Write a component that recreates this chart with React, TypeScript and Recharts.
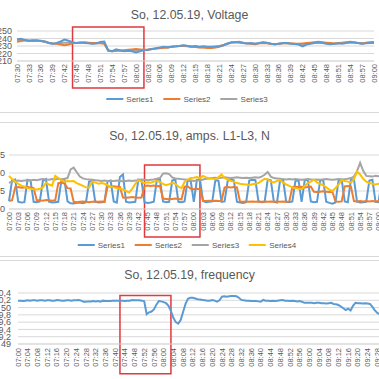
import { LineChart, Line, XAxis, YAxis, CartesianGrid, Legend, ReferenceArea } from "recharts";

const FONT = '"Liberation Sans", Arial, sans-serif';
const TEXT = "#595959";
const GRID = "#d9d9d9";
const BOX = "#e0393e";

const SERIES_NAMES = ["Series1", "Series2", "Series3", "Series4"];
const SERIES_COLORS = ["#5b9bd5", "#ed7d31", "#a5a5a5", "#ffc000"];

// minute labels "HH:MM"
function minuteLabels(h: number, m: number, count: number) {
  const out: string[] = [];
  for (let i = 0; i < count; i++) {
    const t = h * 60 + m + i;
    out.push(`${String(Math.floor(t / 60)).padStart(2, "0")}:${String(t % 60).padStart(2, "0")}`);
  }
  return out;
}

// ---- Voltage, 07:30 - 09:00
const VOLT_TIMES = minuteLabels(7, 30, 91);
const VOLT_TICKS = [210, 220, 230, 240, 250];
const VOLT_S1 = [
  239, 239.5, 238, 237, 237, 237.5, 237, 236, 234, 233,
  234, 236, 238.5, 237, 235, 234, 234.5, 234, 233.5, 233,
  233.5, 235.5, 236, 224, 223, 225.5, 224, 223, 223.5, 223,
  221.5, 223, 224.5, 225, 226, 227, 228, 229, 228.5, 229,
  229.5, 230, 231, 230, 229.5, 230, 229, 229.5, 229, 229,
  229.5, 230, 231, 233, 235, 235, 234.5, 234, 233.5, 234,
  233, 234, 235, 234.5, 233, 232.5, 233, 234, 234, 233,
  232.5, 232, 229.5, 232, 233, 234, 234.5, 234, 233, 232.5,
  233, 233.5, 233, 234, 235, 234.5, 234, 233, 233.5, 234,
  234,
];
const VOLT_S2 = [
  235.5, 236.5, 237.5, 237, 237.5, 237, 236.5, 236, 234.5, 233.5,
  233, 232, 231, 232, 233.5, 234, 234.5, 235, 234.5, 234,
  234, 233.5, 233, 224, 223, 223.5, 224, 224.5, 225, 225.5,
  226, 225.5, 225, 225, 226, 226.5, 227, 227.5, 228, 229,
  229.5, 230, 230, 229.5, 229, 228.5, 228, 228, 227.5, 227.5,
  228, 229, 231, 233, 234.5, 235, 235.5, 234.5, 233.5, 233,
  232.5, 233.5, 234, 233.5, 233, 232.5, 233, 233.5, 234, 233.5,
  233, 233, 233.5, 234, 234.5, 235, 235.5, 235, 234.5, 234,
  233.5, 234, 234.5, 235, 235.5, 235, 234, 233.5, 234.5, 235,
  235.5,
];
const VOLT_S3 = [
  237, 238, 237.5, 237, 237, 237, 236.5, 235.5, 234, 233,
  233.5, 234, 234.5, 234.5, 234, 234, 234.5, 234.5, 234, 233.5,
  233.5, 234, 234, 224, 223, 224, 224, 223.5, 224, 224,
  224, 224, 224.5, 225, 226, 226.5, 227.5, 228, 228, 229,
  229.5, 230, 230.5, 230, 229, 229, 228.5, 228.5, 228, 228,
  228.5, 229.5, 231, 233, 234.5, 235, 235, 234, 233.5, 233.5,
  233, 233.5, 234.5, 234, 233, 232.5, 233, 233.5, 234, 233.5,
  233, 232.5, 232, 233, 234, 234.5, 235, 234.5, 233.5, 233,
  233, 233.5, 234, 234.5, 235, 234.5, 234, 233.5, 234, 234.5,
  234.5,
];

// ---- Amps L1-L3, N, 07:00 - 09:05
const AMP_TIMES = minuteLabels(7, 0, 126);
const AMP_TICKS = [0, 5, 10, 15];
const AMP_S1 = [
  2.2, 8.0, 8.2, 2.0, 1.8, 1.9, 8.1, 7.9, 2.0, 1.9,
  2.1, 7.8, 8.3, 2.0, 1.8, 1.9, 2.0, 7.9, 8.0, 2.1,
  1.6, 1.5, 1.7, 1.8, 1.6, 1.9, 7.6, 7.8, 2.0, 1.8,
  1.9, 2.0, 7.7, 7.9, 2.1, 1.8, 8.9, 9.6, 2.0, 1.8,
  1.9, 2.0, 8.2, 8.0, 1.9, 1.7, 1.8, 2.0, 8.1, 8.3,
  2.1, 1.9, 2.0, 7.9, 8.2, 2.0, 1.9, 2.1, 8.0, 7.8,
  2.0, 8.1, 8.3, 2.2, 1.9, 2.0, 2.1, 8.0, 7.9, 2.0,
  2.1, 7.8, 8.2, 8.0, 2.0, 1.8, 1.7, 1.9, 7.9, 8.1,
  8.0, 2.1, 1.9, 2.0, 8.2, 8.0, 2.0, 1.8, 7.9, 8.1,
  2.0, 1.9, 2.1, 7.8, 8.0, 2.0, 7.9, 8.2, 2.1, 1.9,
  2.0, 7.8, 8.1, 2.0, 1.7, 1.5, 1.8, 8.0, 8.2, 2.1,
  1.9, 8.1, 8.3, 2.0, 1.8, 1.9, 2.0, 7.9, 8.1, 2.0,
  1.9, 8.0, 8.2, 2.1, 1.9, 2.0,
];
const AMP_S2 = [
  2.3, 2.4, 6.0, 6.1, 5.9, 6.0, 6.1, 6.0, 5.8, 2.5,
  2.4, 2.3, 2.5, 2.4, 2.3, 2.4, 7.2, 7.3, 7.1, 5.8,
  5.7, 2.0, 1.9, 2.0, 2.1, 2.0, 1.9, 2.0, 2.1, 2.0,
  2.1, 2.0, 6.3, 6.2, 6.3, 6.2, 6.1, 3.2, 3.1, 3.2,
  3.3, 3.2, 3.1, 3.2, 6.3, 6.5, 6.4, 6.5, 6.3, 6.4,
  2.9, 2.8, 2.7, 2.8, 2.9, 2.8, 2.7, 6.2, 6.3, 5.6,
  5.5, 5.6, 5.5, 2.3, 2.2, 2.3, 2.2, 2.3, 2.2, 2.3,
  6.0, 6.1, 6.0, 6.1, 6.0, 2.1, 2.0, 2.1, 2.0, 2.1,
  2.0, 2.1, 2.0, 2.1, 2.0, 2.1, 2.0, 2.1, 2.0, 2.1,
  2.0, 2.1, 6.1, 6.2, 6.1, 6.2, 6.0, 6.1, 6.2, 4.8,
  4.7, 4.8, 4.9, 4.8, 4.7, 4.8, 2.1, 2.0, 2.1, 6.3,
  6.4, 6.3, 2.2, 2.1, 2.2, 2.1, 2.2, 2.1, 2.2, 2.1,
  2.2, 2.1, 6.2, 6.3, 6.2, 6.1,
];
const AMP_S3 = [
  7.3, 7.6, 7.8, 7.9, 7.8, 7.9, 8.0, 7.9, 8.1, 8.0,
  8.2, 8.3, 8.2, 8.1, 8.3, 8.2, 8.4, 8.3, 8.4, 8.6,
  11.0, 11.5, 10.2, 9.0, 8.5, 8.3, 8.2, 8.1, 8.0, 7.9,
  7.8, 7.9, 7.8, 7.7, 7.8, 7.9, 7.8, 7.7, 7.8, 7.9,
  7.8, 7.9, 8.0, 8.2, 8.1, 8.0, 8.1, 8.2, 8.4, 8.6,
  9.8, 9.9, 9.7, 8.8, 8.5, 8.4, 8.3, 8.2, 8.1, 8.0,
  7.8, 7.9, 8.0, 8.2, 8.4, 8.5, 8.6, 8.7, 8.6, 8.7,
  8.8, 8.7, 8.6, 8.7, 8.8, 8.7, 8.6, 8.7, 8.6, 8.7,
  8.8, 8.7, 9.0, 9.5, 10.3, 9.0, 8.6, 8.5, 8.4, 8.3,
  8.2, 8.3, 8.2, 8.3, 8.2, 8.1, 8.2, 8.3, 8.2, 8.1,
  8.2, 8.1, 8.2, 8.3, 8.2, 8.1, 8.2, 8.3, 8.2, 8.3,
  8.4, 8.6, 9.0, 10.5, 12.8, 10.6, 9.2, 9.1, 9.0, 9.2,
  9.1, 9.2, 9.0, 9.1, 9.2, 9.1,
];
const AMP_S4 = [
  9.2, 8.3, 7.6, 7.0, 6.5, 6.2, 5.8, 5.6, 5.5, 5.4,
  5.6, 6.0, 7.3, 6.8, 6.5, 9.2, 8.6, 8.0, 7.6, 7.8,
  7.7, 7.8, 7.2, 6.8, 6.4, 6.0, 5.9, 7.6, 7.4, 7.0,
  7.2, 7.0, 6.6, 6.2, 6.0, 5.8, 5.6, 5.4, 5.0, 4.6,
  5.6, 7.0, 8.0, 7.6, 7.2, 7.4, 7.3, 7.6, 7.8, 7.5,
  7.0, 6.6, 6.9, 7.3, 7.0, 6.2, 5.8, 7.5, 8.2, 8.6,
  8.7, 8.9, 8.6, 9.2, 8.8, 8.5, 8.4, 8.3, 8.8, 9.6,
  8.6, 8.2, 7.8, 7.6, 7.2, 7.0, 6.9, 6.8, 6.7, 6.9,
  7.0, 7.2, 7.8, 8.4, 8.2, 7.6, 7.4, 7.8, 8.0, 7.4,
  6.8, 6.4, 6.0, 5.8, 5.6, 5.5, 6.4, 7.2, 7.6, 8.2,
  7.4, 7.0, 6.6, 6.0, 5.4, 5.0, 5.8, 6.8, 8.0, 7.8,
  7.6, 7.4, 8.2, 10.4, 9.6, 8.4, 7.6, 7.2, 7.0, 6.8,
  7.0, 7.2, 7.4, 7.1, 6.9, 7.0,
];

// ---- Frequency, 07:00 - 09:32
const FREQ_TIMES = minuteLabels(7, 0, 153);
const FREQ_TICKS = [49, 49.2, 49.4, 49.6, 49.8, 50, 50.2, 50.4];
const FREQ_S1 = [
  50.19, 50.19, 50.18, 50.19, 50.2, 50.19, 50.2, 50.2, 50.19, 50.2,
  50.2, 50.19, 50.2, 50.2, 50.19, 50.19, 50.21, 50.2, 50.19, 50.19,
  50.2, 50.2, 50.19, 50.2, 50.2, 50.21, 50.19, 50.16, 50.16, 50.17,
  50.17, 50.18, 50.17, 50.18, 50.16, 50.19, 50.18, 50.18, 50.18, 50.19,
  50.19, 50.19, 50.19, 50.19, 50.18, 50.19, 50.19, 50.21, 50.2, 50.2,
  50.2, 50.19, 50.17, 49.82, 49.87, 49.89, 49.95, 50.08, 50.18, 50.17,
  50.15, 50.12, 50.05, 49.9, 49.72, 49.6, 49.56, 49.66, 49.88, 50.1,
  50.24, 50.27, 50.27, 50.25, 50.23, 50.22, 50.21, 50.2, 50.19, 50.19,
  50.21, 50.19, 50.16, 50.2, 50.3, 50.31, 50.3, 50.31, 50.32, 50.32,
  50.31, 50.27, 50.21, 50.2, 50.19, 50.19, 50.18, 50.18, 50.18, 50.17,
  50.16, 50.21, 50.19, 50.19, 50.18, 50.19, 50.18, 50.19, 50.2, 50.21,
  50.19, 50.19, 50.18, 50.19, 50.18, 50.17, 50.18, 50.16, 50.13, 50.13,
  50.13, 50.13, 50.12, 50.13, 50.13, 50.12, 50.12, 50.11, 50.12, 50.13,
  50.1, 50.09, 50.07, 50.03, 49.98, 49.93, 49.97, 49.92, 50.05, 50.13,
  50.12, 50.12, 50.11, 50.12, 50.11, 50.1, 50.02, 49.92, 49.85, 49.82,
  49.85, 49.9, 49.95,
];

const voltData = VOLT_TIMES.map((time, i) => ({ time, s1: VOLT_S1[i], s2: VOLT_S2[i], s3: VOLT_S3[i] }));
const ampData = AMP_TIMES.map((time, i) => ({ time, s1: AMP_S1[i], s2: AMP_S2[i], s3: AMP_S3[i], s4: AMP_S4[i] }));
const freqData = FREQ_TIMES.map((time, i) => ({ time, s1: FREQ_S1[i] }));

function TimeTick({ x, y, payload }: any) {
  return (
    <text x={x} y={y} transform={`rotate(-90 ${x} ${y})`} textAnchor="end" dy="0.35em" fontSize={7.5} fill={TEXT}>
      {payload.value}
    </text>
  );
}

function SeriesLegend({ names, center }: { names: string[]; center: number }) {
  return (
    <div style={{ position: "relative", height: 16 }}>
      <div
        style={{
          position: "absolute", left: center, top: 0, transform: "translateX(-50%)",
          display: "flex", alignItems: "center", height: 16, whiteSpace: "nowrap",
          gap: 10, fontSize: 8, color: TEXT, fontFamily: FONT,
        }}
      >
        {names.map((n, i) => (
          <div key={n} style={{ display: "flex", alignItems: "center", gap: 3 }}>
            <span style={{ display: "inline-block", width: 17, height: 2.5, background: SERIES_COLORS[i] }} />
            <span>{n}</span>
          </div>
        ))}
      </div>
    </div>
  );
}

function Title({ text, top }: { text: string; top: number }) {
  return (
    <div style={{ position: "absolute", left: 0, width: 379, top, textAlign: "center", fontSize: 12.3, color: TEXT, lineHeight: "14px" }}>
      {text}
    </div>
  );
}

const panel = (top: number, height: number) => ({
  position: "absolute" as const, left: -10, top, width: 400, height,
  boxSizing: "border-box" as const, border: `1px solid ${GRID}`, background: "#fff",
});

const boxProps = { stroke: BOX, strokeWidth: 1.5, fill: "none", fillOpacity: 0, ifOverflow: "visible" as const };
const yTick = { fontSize: 9, fill: TEXT };

export default function App() {
  return (
    <div style={{ position: "absolute", left: 0, top: 0, width: 379, height: 379, overflow: "hidden", background: "#fff", fontFamily: FONT }}>
      <div style={panel(-10, 123)} />
      <div style={panel(122, 135)} />
      <div style={panel(260, 200)} />

      <Title text="So, 12.05.19, Voltage" top={8} />
      <Title text="So, 12.05.19, amps. L1-L3, N" top={129} />
      <Title text="So, 12.05.19, frequency" top={268} />

      <div style={{ position: "absolute", left: -20, top: 0 }}>
        <LineChart width={400} height={112} data={voltData} margin={{ top: 31, right: 6, bottom: 5, left: 0 }}>
          <CartesianGrid vertical={false} stroke={GRID} />
          <XAxis dataKey="time" interval={2} height={30} tickLine={false} tickSize={0} tickMargin={3} axisLine={{ stroke: GRID }} tick={(p: any) => <TimeTick {...p} />} />
          <YAxis domain={[210, 250]} ticks={VOLT_TICKS} interval={0} width={37} axisLine={false} tickLine={false} tickSize={0} tickMargin={5} tick={yTick} />
          <ReferenceArea x1="07:44" x2="08:02" y1={174} y2={255.3} {...boxProps} />
          <Line dataKey="s3" name={SERIES_NAMES[2]} stroke={SERIES_COLORS[2]} strokeWidth={2} dot={false} activeDot={false} isAnimationActive={false} />
          <Line dataKey="s2" name={SERIES_NAMES[1]} stroke={SERIES_COLORS[1]} strokeWidth={2} dot={false} activeDot={false} isAnimationActive={false} />
          <Line dataKey="s1" name={SERIES_NAMES[0]} stroke={SERIES_COLORS[0]} strokeWidth={2} dot={false} activeDot={false} isAnimationActive={false} />
          <Legend verticalAlign="bottom" wrapperStyle={{ left: 0, width: 400 }} content={() => <SeriesLegend names={SERIES_NAMES.slice(0, 3)} center={207} />} />
        </LineChart>
      </div>

      <div style={{ position: "absolute", left: -28, top: 122 }}>
        <LineChart width={427} height={133} data={ampData} margin={{ top: 33, right: 5, bottom: 2, left: 0 }}>
          <CartesianGrid vertical={false} stroke={GRID} />
          <XAxis dataKey="time" interval={2} height={28} tickLine={false} tickSize={0} tickMargin={3} axisLine={{ stroke: GRID }} tick={(p: any) => <TimeTick {...p} />} />
          <YAxis domain={[0, 15]} ticks={AMP_TICKS} interval={0} width={37} axisLine={false} tickLine={false} tickSize={0} tickMargin={4} tick={yTick} />
          <ReferenceArea x1="07:44" x2="08:02" y1={-7.8} y2={12.2} {...boxProps} />
          <Line dataKey="s1" name={SERIES_NAMES[0]} stroke={SERIES_COLORS[0]} strokeWidth={2} dot={false} activeDot={false} isAnimationActive={false} />
          <Line dataKey="s2" name={SERIES_NAMES[1]} stroke={SERIES_COLORS[1]} strokeWidth={2} dot={false} activeDot={false} isAnimationActive={false} />
          <Line dataKey="s3" name={SERIES_NAMES[2]} stroke={SERIES_COLORS[2]} strokeWidth={2} dot={false} activeDot={false} isAnimationActive={false} />
          <Line dataKey="s4" name={SERIES_NAMES[3]} stroke={SERIES_COLORS[3]} strokeWidth={2} dot={false} activeDot={false} isAnimationActive={false} />
          <Legend verticalAlign="bottom" wrapperStyle={{ left: 0, width: 427 }} content={() => <SeriesLegend names={SERIES_NAMES} center={215} />} />
        </LineChart>
      </div>

      <div style={{ position: "absolute", left: -22, top: 259 }}>
        <LineChart width={414} height={140} data={freqData} margin={{ top: 34, right: 5, bottom: 9, left: 0 }}>
          <CartesianGrid vertical={false} stroke={GRID} />
          <XAxis dataKey="time" interval={3} height={30} tickLine={false} tickSize={0} tickMargin={4} axisLine={{ stroke: GRID }} tick={(p: any) => <TimeTick {...p} />} />
          <YAxis domain={[49, 50.4]} ticks={FREQ_TICKS} interval={0} width={40} axisLine={false} tickLine={false} tickSize={0} tickMargin={7} tick={yTick} tickFormatter={(v: number) => String(v).replace(".", ",")} />
          <ReferenceArea x1="07:42" x2="08:03" y1={48.18} y2={50.33} {...boxProps} />
          <Line dataKey="s1" name={SERIES_NAMES[0]} stroke={SERIES_COLORS[0]} strokeWidth={2} dot={false} activeDot={false} isAnimationActive={false} />
          <Legend verticalAlign="bottom" wrapperStyle={{ left: 0, width: 414 }} content={() => <SeriesLegend names={SERIES_NAMES.slice(0, 1)} center={211} />} />
        </LineChart>
      </div>
    </div>
  );
}
